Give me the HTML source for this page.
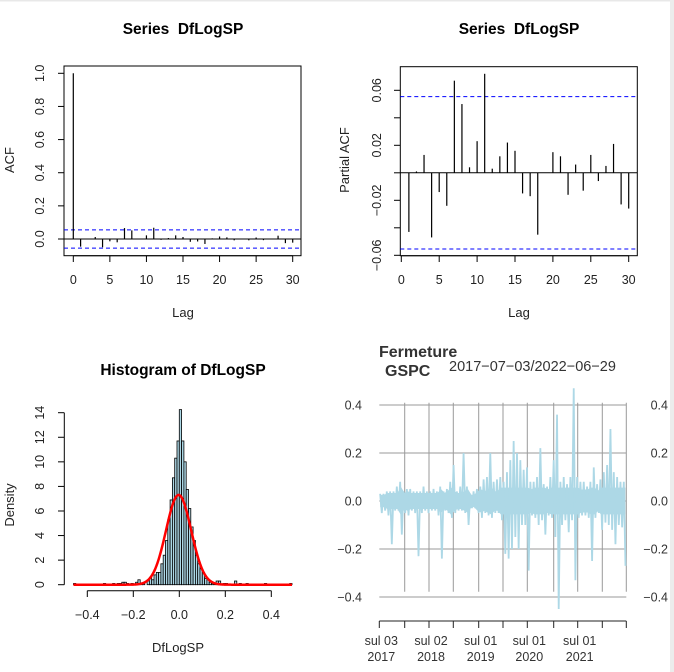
<!DOCTYPE html>
<html><head><meta charset="utf-8"><style>
body{margin:0;background:#fff;}
svg{display:block;font-family:"Liberation Sans",sans-serif;}
</style></head><body>
<svg id="c" width="674" height="672" viewBox="0 0 674 672" xmlns="http://www.w3.org/2000/svg">
<rect x="0" y="0" width="674" height="672" fill="#fff"/>
<rect x="0" y="0" width="674" height="1.5" fill="#e8e8e8"/>
<rect x="670" y="0" width="4" height="672" fill="#ececec"/>
</svg>
<script>
// ---- data ----
const acfLags = [0,1,2,3,4,5,6,7,8,9,10,11,12,13,14,15,16,17,18,19,20,21,22,23,24,25,26,27,28,29,30];
const acfVals = [1,-0.046,0.001,0.012,-0.05,-0.014,-0.02,0.066,0.052,0.003,0.022,0.068,-0.005,0.006,0.022,0.012,-0.017,-0.015,-0.03,0.004,0.015,0.01,-0.008,0.002,-0.008,0.009,-0.007,0.003,0.02,-0.025,-0.022];
const pacfLags = [1,2,3,4,5,6,7,8,9,10,11,12,13,14,15,16,17,18,19,20,21,22,23,24,25,26,27,28,29,30];
const pacfVals = [-0.043,0.001,0.013,-0.047,-0.014,-0.024,0.067,0.050,0.004,0.023,0.072,0.003,0.012,0.022,0.016,-0.015,-0.017,-0.045,0,0.015,0.012,-0.016,0.006,-0.013,0.013,-0.006,0.005,0.021,-0.023,-0.026];
const ciBound = 0.0554;
const histStart = -0.46, histWidth = 0.01;
const histDens = [0.1,0,0,0,0,0,0,0,0,0,0,0,0,0.1,0,0,0,0.1,0,0.1,0.1,0.2,0.2,0.1,0,0.1,0,0.2,0.4,0.1,0.1,0,0.3,0.6,0.4,0.8,1.0,1.0,1.7,2.4,3.6,5.3,6.9,8.7,10.3,11.7,14.25,11.7,10.0,7.75,6.2,4.7,3.6,2.4,1.7,1.3,1.0,0.5,0.4,0.2,0.1,0.1,0.3,0.3,0,0.1,0.1,0,0,0,0.3,0,0.1,0,0,0.1,0,0,0,0,0,0,0,0.1,0,0,0,0,0,0,0,0,0,0,0.1];
const normMean = -0.003, normSd = 0.0546;
const tsHi = [0.03,0.03,0.04,0.04,0.04,0.06,0.08,0.04,0.05,0.05,0.04,0.04,0.04,0.06,0.04,0.04,0.05,0.04,0.06,0.04,0.05,0.08,0.15,0.04,0.06,0.20,0.06,0.03,0.04,0.05,0.06,0.09,0.10,0.20,0.08,0.09,0.10,0.08,0.12,0.17,0.25,0.20,0.17,0.13,0.14,0.08,0.08,0.10,0.22,0.07,0.06,0.10,0.17,0.36,0.08,0.10,0.07,0.10,0.47,0.10,0.08,0.08,0.06,0.08,0.14,0.07,0.09,0.12,0.15,0.30,0.12,0.10,0.08,0.08];
const tsLo = [-0.05,-0.04,-0.06,-0.18,-0.04,-0.04,-0.14,-0.05,-0.06,-0.04,-0.05,-0.23,-0.05,-0.04,-0.05,-0.04,-0.04,-0.06,-0.24,-0.04,-0.05,-0.07,-0.05,-0.04,-0.04,-0.05,-0.10,-0.03,-0.03,-0.05,-0.07,-0.05,-0.06,-0.07,-0.05,-0.05,-0.08,-0.22,-0.24,-0.20,-0.15,-0.20,-0.10,-0.10,-0.29,-0.06,-0.07,-0.10,-0.08,-0.14,-0.06,-0.07,-0.15,-0.45,-0.10,-0.08,-0.13,-0.08,-0.33,-0.07,-0.06,-0.06,-0.07,-0.25,-0.07,-0.05,-0.12,-0.09,-0.10,-0.12,-0.18,-0.10,-0.11,-0.27];
const tsTickLabels = [["sul 03","2017"],null,["sul 02","2018"],null,["sul 01","2019"],null,["sul 01","2020"],null,["sul 01","2021"],null];
const tsYTicks = [0.4,0.2,0.0,-0.2,-0.4];

// ---- helpers ----
const svg = document.getElementById('c');
const NS = 'http://www.w3.org/2000/svg';
function mk(tag, attrs, text){
  const e = document.createElementNS(NS, tag);
  for (const k in attrs) e.setAttribute(k, attrs[k]);
  if (text !== undefined) e.textContent = text;
  svg.appendChild(e);
  return e;
}
function lin(d0,d1,r0,r1){ return v => r0 + (v-d0)/(d1-d0)*(r1-r0); }
function fmt(v,d){ return v.toFixed(d).replace('-','\u2212'); }
const TF = 12.5, AF = 13, HF = 15.5;

// ---- Panel 1: ACF ----
(function(){
  const x = lin(0,30,73.3,292.7), y = lin(0,1,239,73.3);
  let e = mk('rect',{x:64,y:66,width:237,height:189.7,fill:'none',stroke:'#000','stroke-width':1});
   
  e = mk('line',{x1:64,x2:301,y1:y(0),y2:y(0),stroke:'#000','stroke-width':1});
   
  [ciBound,-ciBound].forEach(b=>{
    e = mk('line',{x1:64,x2:301,y1:y(b),y2:y(b),stroke:'#00f','stroke-width':1,'stroke-dasharray':'4,3'});
     
  });
  acfLags.forEach((l,i)=>{
    e = mk('line',{x1:x(l),x2:x(l),y1:y(0),y2:y(acfVals[i]),stroke:'#000','stroke-width':1.2});
     
  });
  [0,0.2,0.4,0.6,0.8,1.0].forEach(v=>{
    e = mk('line',{x1:58,x2:64,y1:y(v),y2:y(v),stroke:'#000'});
     
    e = mk('text',{x:44,y:y(v),'font-size':TF,'text-anchor':'middle',transform:`rotate(-90 44 ${y(v)})`,fill:'#222'},fmt(v,1));
     
  });
  e = mk('line',{x1:x(0),x2:x(30),y1:255.7,y2:255.7,stroke:'#000'});
   
  [0,5,10,15,20,25,30].forEach(v=>{
    e = mk('line',{x1:x(v),x2:x(v),y1:255.7,y2:262,stroke:'#000'});
     
    e = mk('text',{x:x(v),y:284,'font-size':TF,'text-anchor':'middle',fill:'#222'},v);
     
  });
  e = mk('text',{x:183,y:34,'font-size':HF,'font-weight':'bold','text-anchor':'middle'},'Series\u00a0\u00a0DfLogSP');
   
  e = mk('text',{x:183,y:317,'font-size':AF,'text-anchor':'middle',fill:'#222'},'Lag');
   
  e = mk('text',{x:14,y:160,'font-size':AF,'text-anchor':'middle',transform:'rotate(-90 14 160)',fill:'#222'},'ACF');
   
})();

// ---- Panel 2: PACF ----
(function(){
  const x = lin(0,30,401.3,628.7), y = lin(0,0.06,172.8,90.3);
  let e = mk('rect',{x:400.3,y:66.7,width:237,height:189,fill:'none',stroke:'#000','stroke-width':1});
   
  e = mk('line',{x1:400.3,x2:637.3,y1:y(0),y2:y(0),stroke:'#000'});
   
  [ciBound,-ciBound].forEach(b=>{
    e = mk('line',{x1:400.3,x2:637.3,y1:y(b),y2:y(b),stroke:'#00f','stroke-width':1,'stroke-dasharray':'4,3'});
     
  });
  pacfLags.forEach((l,i)=>{
    e = mk('line',{x1:x(l),x2:x(l),y1:y(0),y2:y(pacfVals[i]),stroke:'#000','stroke-width':1.2});
     
  });
  [-0.06,-0.04,-0.02,0,0.02,0.04,0.06].forEach(v=>{
    e = mk('line',{x1:394,x2:400.3,y1:y(v),y2:y(v),stroke:'#000'});
     
  });
  [-0.06,-0.02,0.02,0.06].forEach(v=>{
    e = mk('text',{x:381,y:y(v),'font-size':TF,'text-anchor':'middle',transform:`rotate(-90 381 ${y(v)})`,fill:'#222'},fmt(v,2));
     
  });
  e = mk('line',{x1:x(0),x2:x(30),y1:255.7,y2:255.7,stroke:'#000'});
   
  [0,5,10,15,20,25,30].forEach(v=>{
    e = mk('line',{x1:x(v),x2:x(v),y1:255.7,y2:262,stroke:'#000'});
     
    e = mk('text',{x:x(v),y:284,'font-size':TF,'text-anchor':'middle',fill:'#222'},v);
     
  });
  e = mk('text',{x:519,y:34,'font-size':HF,'font-weight':'bold','text-anchor':'middle'},'Series\u00a0\u00a0DfLogSP');
   
  e = mk('text',{x:519,y:317,'font-size':AF,'text-anchor':'middle',fill:'#222'},'Lag');
   
  e = mk('text',{x:349,y:160,'font-size':AF,'text-anchor':'middle',transform:'rotate(-90 349 160)',fill:'#222'},'Partial ACF');
   
})();

// ---- Panel 3: Histogram ----
(function(){
  const x = lin(0,0.4,179.3,271.3), y = lin(0,14,584.7,412.7);
  let e;
  histDens.forEach((d,i)=>{
    const a = histStart + i*histWidth, b = a + histWidth;
    e = mk('rect',{x:x(a),y:y(d),width:x(b)-x(a),height:y(0)-y(d),fill:'#add8e6',stroke:'#000','stroke-width':0.8});
     
  });
  let pts=[];
  const lo = histStart, hi = histStart + histDens.length*histWidth;
  for(let k=0;k<=300;k++){
    const v = lo + (hi-lo)*k/300;
    const d = Math.exp(-0.5*Math.pow((v-normMean)/normSd,2))/(normSd*Math.sqrt(2*Math.PI));
    pts.push(x(v).toFixed(2)+','+y(d).toFixed(2));
  }
  e = mk('polyline',{points:pts.join(' '),fill:'none',stroke:'#f00','stroke-width':2.5});
   
  e = mk('line',{x1:64.3,x2:64.3,y1:y(0),y2:y(14),stroke:'#000'});
   
  [0,2,4,6,8,10,12,14].forEach(v=>{
    e = mk('line',{x1:58,x2:64.3,y1:y(v),y2:y(v),stroke:'#000'});
     
    e = mk('text',{x:44,y:y(v),'font-size':TF,'text-anchor':'middle',transform:`rotate(-90 44 ${y(v)})`,fill:'#222'},v);
     
  });
  e = mk('line',{x1:x(-0.4),x2:x(0.4),y1:590.7,y2:590.7,stroke:'#000'});
   
  [-0.4,-0.2,0,0.2,0.4].forEach(v=>{
    e = mk('line',{x1:x(v),x2:x(v),y1:590.7,y2:597,stroke:'#000'});
     
    e = mk('text',{x:x(v),y:619,'font-size':TF,'text-anchor':'middle',fill:'#222'},fmt(v,1));
     
  });
  e = mk('text',{x:183,y:375,'font-size':HF,'font-weight':'bold','text-anchor':'middle'},'Histogram of DfLogSP');
   
  e = mk('text',{x:178,y:652,'font-size':AF,'text-anchor':'middle',fill:'#222'},'DfLogSP');
   
  e = mk('text',{x:14,y:505,'font-size':AF,'text-anchor':'middle',transform:'rotate(-90 14 505)',fill:'#222'},'Density');
   
})();

// ---- Panel 4: time series ----
(function(){
  const x0 = 379.3, x1 = 626.3;
  const y = lin(0,0.4,501,405);
  const tickX = [379.3,404.7,429,453.3,478.7,503,527.3,553.7,577.7,602.3,626.3];
  let e;
  tsYTicks.forEach(v=>{
    e = mk('line',{x1:x0,x2:x1,y1:y(v),y2:y(v),stroke:'#9a9a9a','stroke-width':1});
     
    e = mk('text',{x:362,y:y(v)+4.5,'font-size':TF,'text-anchor':'end',fill:'#333'},fmt(v,1));
     
    e = mk('text',{x:668,y:y(v)+4.5,'font-size':TF,'text-anchor':'end',fill:'#333'},fmt(v,1));
     
  });
  tickX.slice(1).forEach(tx=>{
    e = mk('line',{x1:tx,x2:tx,y1:402.7,y2:591.7,stroke:'#9a9a9a','stroke-width':1});
     
  });
  const n = tsHi.length, bw = (x1-x0)/n;
  // dense core band
  let top=[], bot=[];
  for(let i=0;i<n;i++){
    const c = Math.min(tsHi[i], -tsLo[i], 0.07)*0.75;
    const cx = x0+bw*(i+0.5);
    top.push(cx.toFixed(2)+','+y(c).toFixed(2));
    bot.unshift(cx.toFixed(2)+','+y(-c).toFixed(2));
  }
  e = mk('polygon',{points:top.concat(bot).join(' '),fill:'#add8e6',stroke:'#add8e6','stroke-width':1.5});
   
  let pts=[];
  for(let i=0;i<n;i++){
    pts.push((x0+bw*i+bw*0.25).toFixed(2)+','+y(tsHi[i]).toFixed(2));
    pts.push((x0+bw*i+bw*0.75).toFixed(2)+','+y(tsLo[i]).toFixed(2));
  }
  e = mk('polyline',{points:pts.join(' '),fill:'none',stroke:'#add8e6','stroke-width':1.8,'stroke-linejoin':'miter'});
   
  e = mk('line',{x1:x0,x2:x1,y1:621,y2:621,stroke:'#222'});
   
  tickX.forEach((tx,i)=>{
    e = mk('line',{x1:tx,x2:tx,y1:621,y2:628,stroke:'#222'});
     
    const lab = tsTickLabels[i];
    if(lab){
      e = mk('text',{x:tx+2,y:645,'font-size':TF,'text-anchor':'middle',fill:'#333'},lab[0]);
       
      e = mk('text',{x:tx+2,y:661,'font-size':TF,'text-anchor':'middle',fill:'#333'},lab[1]);
       
    }
  });
  e = mk('text',{x:379,y:357,'font-size':16,'font-weight':'bold',fill:'#333'},'Fermeture');
   
  e = mk('text',{x:385,y:376,'font-size':16,'font-weight':'bold',fill:'#333'},'GSPC');
   
  e = mk('text',{x:449,y:371,'font-size':14.5,fill:'#333'},'2017\u221207\u221203/2022\u221206\u221229');
   
})();
</script>
</body></html>
